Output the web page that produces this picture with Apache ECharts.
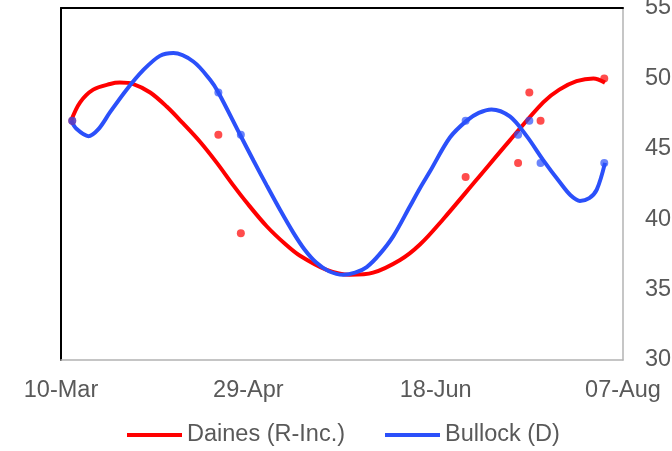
<!DOCTYPE html>
<html>
<head>
<meta charset="utf-8">
<script src="https://cdn.jsdelivr.net/npm/echarts@6/dist/echarts.min.js"></script>
<style>
html,body{margin:0;padding:0;background:#fff;}
#c{width:672px;height:451px;}
</style>
</head>
<body>
<div id="c"></div>
<script>
// x values are days after 10-Mar (2020)
const tickLabels = ['10-Mar', '29-Apr', '18-Jun', '07-Aug'];
const tickDays = [0, 50, 100, 150];

const pollDays = [3, 42, 48, 108, 122, 125, 128, 145];
const dainesPolls = [47, 46, 39, 43, 44, 49, 47, 50];
const bullockPolls = [47, 49, 46, 47, 46, 47, 44, 44];

const dainesTrendDays = [2.7, 5.1, 8.6, 13.1, 15.7, 19.3, 23.8, 28.2, 32.6, 37.1, 41.6, 46.0, 49.5, 54.9, 60.0, 63.8, 70.9, 77.1, 83.3, 90.5, 95.8, 102.0, 110.9, 119.8, 128.7, 133.0, 137.6, 142.1, 145.2];
const dainesTrend = [47.0, 48.3, 49.2, 49.6, 49.7, 49.6, 49.0, 48.0, 46.8, 45.5, 44.0, 42.4, 41.2, 39.5, 38.2, 37.4, 36.4, 36.05, 36.2, 37.1, 38.2, 40.0, 42.8, 45.6, 48.3, 49.2, 49.8, 50.0, 49.7];

const bullockTrendDays = [2.7, 4.2, 7.3, 10.0, 13.1, 17.5, 22.0, 26.4, 30.0, 35.3, 39.8, 42.0, 47.8, 51.4, 54.9, 58.5, 62.0, 65.0, 68.2, 71.5, 75.3, 78.5, 81.6, 85.0, 88.7, 93.1, 95.8, 98.5, 103.8, 108.3, 111.5, 114.9, 119.8, 124.3, 128.7, 133.2, 136.0, 138.5, 141.0, 143.0, 145.2];
const bullockTrend = [47.0, 46.4, 45.9, 46.4, 47.6, 49.2, 50.6, 51.6, 51.8, 51.2, 49.9, 49.0, 46.0, 44.15, 42.4, 40.65, 39.05, 37.85, 36.9, 36.3, 36.05, 36.2, 36.6, 37.5, 38.8, 40.9, 42.2, 43.4, 45.8, 47.0, 47.55, 47.8, 47.3, 45.9, 44.2, 42.6, 41.7, 41.3, 41.5, 42.1, 44.0];

const RED = '#FF0000';
const BLUE = '#2B50FA';
const TEXT = '#595959';
const FONT = 'Liberation Sans, Arial, sans-serif';

function pairs(xs, ys) { return xs.map((x, i) => [x, ys[i]]); }

const chart = echarts.init(document.getElementById('c'), null, {renderer: 'canvas'});
chart.setOption({
  animation: false,
  backgroundColor: '#fff',
  textStyle: {fontFamily: FONT},
  grid: {left: 61, right: 49, top: 8, bottom: 91, containLabel: false, outerBoundsMode: 'none'},
  legend: {
    data: ['Daines (R-Inc.)', 'Bullock (D)'],
    left: 122, top: 418,
    icon: 'rect', itemWidth: 55, itemHeight: 4, itemGap: 40,
    textStyle: {color: TEXT, fontSize: 23.5, fontFamily: FONT}
  },
  xAxis: [{
    type: 'value', min: 0, max: 150, interval: 50,
    axisLine: {show: true, onZero: false, lineStyle: {color: '#B3B3B3', width: 1.5}},
    axisTick: {show: false}, splitLine: {show: false},
    axisLabel: {
      color: TEXT, fontSize: 23.5, fontFamily: FONT, margin: 19,
      formatter: v => { const i = tickDays.indexOf(v); return i >= 0 ? tickLabels[i] : ''; }
    }
  }, {
    type: 'value', min: 0, max: 150, position: 'top',
    axisLine: {show: true, onZero: false, lineStyle: {color: '#000', width: 2}},
    axisTick: {show: false}, splitLine: {show: false}, axisLabel: {show: false}
  }],
  yAxis: [{
    type: 'value', min: 30, max: 55, interval: 5, position: 'right',
    axisLine: {show: true, onZero: false, lineStyle: {color: '#B3B3B3', width: 1.5}},
    axisTick: {show: false}, splitLine: {show: false},
    axisLabel: {color: TEXT, fontSize: 23.5, fontFamily: FONT, margin: 22}
  }, {
    type: 'value', min: 30, max: 55, position: 'left',
    axisLine: {show: true, onZero: false, lineStyle: {color: '#000', width: 2}},
    axisTick: {show: false}, splitLine: {show: false}, axisLabel: {show: false}
  }],
  series: [
    {
      name: 'Daines (R-Inc.)', type: 'line', smooth: 0.33, showSymbol: false, symbol: 'none',
      xAxisIndex: 0, yAxisIndex: 0,
      data: pairs(dainesTrendDays, dainesTrend),
      lineStyle: {color: RED, width: 4}, itemStyle: {color: RED}, z: 2
    },
    {
      name: 'Bullock (D)', type: 'line', smooth: 0.33, showSymbol: false, symbol: 'none',
      xAxisIndex: 0, yAxisIndex: 0,
      data: pairs(bullockTrendDays, bullockTrend),
      lineStyle: {color: BLUE, width: 4}, itemStyle: {color: BLUE}, z: 3
    },
    {
      name: 'Daines polls', type: 'scatter', symbolSize: 8,
      xAxisIndex: 0, yAxisIndex: 0,
      data: pairs(pollDays, dainesPolls),
      itemStyle: {color: RED, opacity: 0.7}, z: 4
    },
    {
      name: 'Bullock polls', type: 'scatter', symbolSize: 8,
      xAxisIndex: 0, yAxisIndex: 0,
      data: pairs(pollDays, bullockPolls),
      itemStyle: {color: BLUE, opacity: 0.7}, z: 5
    }
  ]
});
</script>
</body>
</html>
